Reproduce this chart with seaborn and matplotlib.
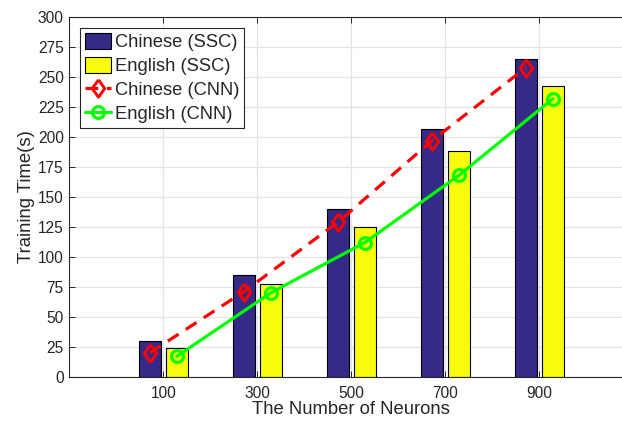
import numpy as np
import pandas as pd
import matplotlib
matplotlib.use("Agg")
import matplotlib.pyplot as plt
from matplotlib.patches import Patch
from matplotlib.lines import Line2D
import seaborn as sns

# Training time (s) per hidden-layer size
neurons = ["100", "300", "500", "700", "900"]
chinese_ssc = [30, 85, 140, 207, 265]
english_ssc = [24, 77, 125, 188, 243]
chinese_cnn = [20, 71, 129, 197, 258]
english_cnn = [17, 70, 112, 168, 232]
y_ticks = list(range(0, 301, 25))

NAVY = "#352A87"
YELLOW = "#F9FB0E"
INK = "#262626"

# diamond a little narrower than it is tall
DIAMOND = [(0, 1), (0.72, 0), (0, -1), (-0.72, 0), (0, 1)]

sns.set_style("ticks")
plt.rcParams["font.family"] = ["Liberation Sans", "DejaVu Sans"]
plt.rcParams["axes.edgecolor"] = INK
plt.rcParams["xtick.color"] = INK
plt.rcParams["ytick.color"] = INK
plt.rcParams["axes.labelcolor"] = INK

df = pd.DataFrame({
    "neurons": neurons * 2,
    "time": chinese_ssc + english_ssc,
    "series": ["Chinese (SSC)"] * len(neurons) + ["English (SSC)"] * len(neurons),
})

fig = plt.figure(figsize=(6.22, 4.21), dpi=100)
ax = fig.add_axes([0.1115, 0.1052, 0.9068, 0.8537])

group_width = 0.5714
sns.barplot(data=df, x="neurons", y="time", hue="series", order=neurons,
            palette=[NAVY, YELLOW], saturation=1, width=group_width, gap=0.2,
            edgecolor="black", linewidth=0.8, legend=False, ax=ax)

red_style = dict(color="red", linewidth=2.3, linestyle=(0, (4, 2.7)),
                 marker=DIAMOND, markersize=12.5, markerfacecolor="none",
                 markeredgecolor="red", markeredgewidth=2.1)
green_style = dict(color="#00FF00", linewidth=2.3, linestyle="-",
                   marker="o", markersize=8.5, markerfacecolor="none",
                   markeredgecolor="#00FF00", markeredgewidth=2.3)

# line series sit on the centres of the dodged bars
offset = group_width / 4
pos = np.arange(len(neurons))
sns.lineplot(x=pos - offset, y=chinese_cnn, sort=False, ax=ax, zorder=4, **red_style)
sns.lineplot(x=pos + offset, y=english_cnn, sort=False, ax=ax, zorder=4, **green_style)

ax.set_xlim(-1, len(neurons))
ax.set_ylim(0, 300)
ax.set_xticks(pos)
ax.set_xticklabels(neurons)
ax.set_yticks(y_ticks)

ax.set_axisbelow(True)
ax.grid(True, color="#e3e3e3", linewidth=0.9)
for side in ["top", "right", "left", "bottom"]:
    ax.spines[side].set_visible(True)
    ax.spines[side].set_linewidth(0.8)
ax.tick_params(axis="both", direction="in", length=4, width=0.7,
               labelsize=11.2, top=True, right=True)
ax.tick_params(axis="x", pad=7)
ax.tick_params(axis="y", pad=4)

ax.set_xlabel("The Number of Neurons", fontsize=13.3, labelpad=0)
ax.set_ylabel("Training Time(s)", fontsize=13.3, labelpad=2)

handles = [
    Patch(facecolor=NAVY, edgecolor="black", linewidth=0.8),
    Patch(facecolor=YELLOW, edgecolor="black", linewidth=0.8),
    Line2D([], [], **red_style),
    Line2D([], [], **green_style),
]
labels = ["Chinese (SSC)", "English (SSC)", "Chinese (CNN)", "English (CNN)"]
leg = ax.legend(handles, labels, loc="upper left",
                bbox_to_anchor=(80 / 622, 1 - 28.3 / 421), bbox_transform=fig.transFigure,
                fontsize=13.2, frameon=True, fancybox=False, framealpha=1,
                edgecolor=INK, borderpad=0.25, labelspacing=0.32, handlelength=1.45,
                handleheight=0.95, handletextpad=0.2, borderaxespad=0)
leg.get_frame().set_linewidth(0.8)

fig.savefig("out.png", dpi=100)
